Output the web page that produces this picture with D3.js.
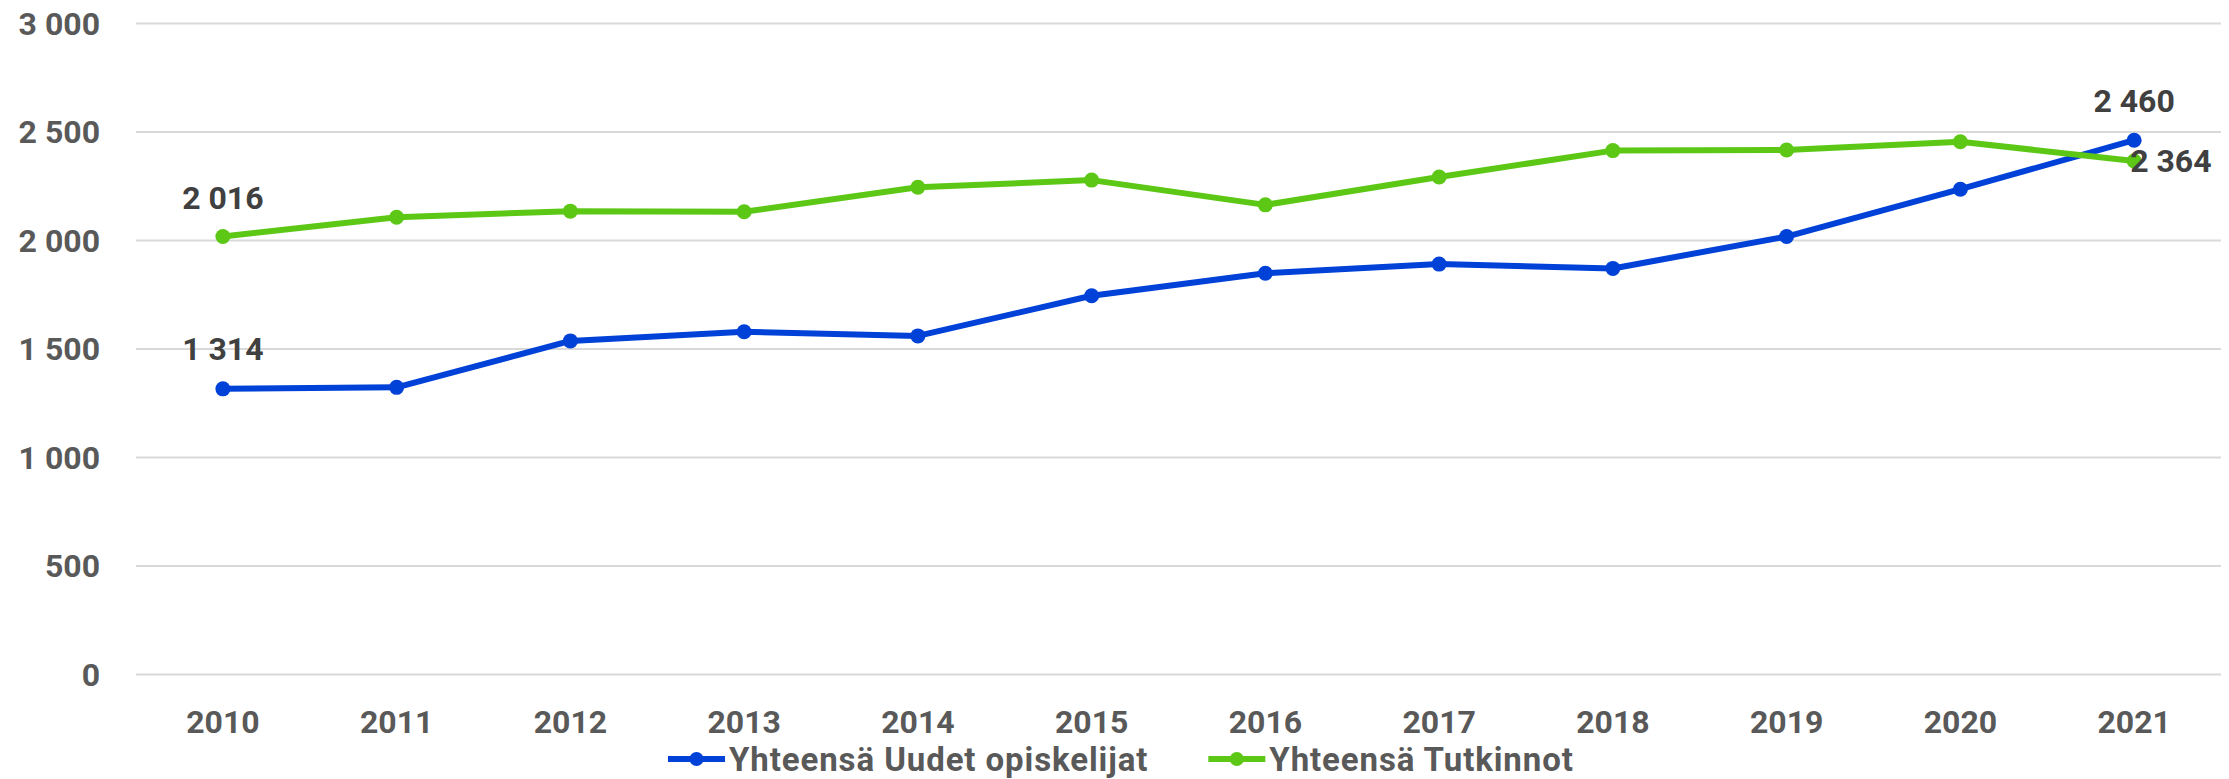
<!DOCTYPE html>
<html>
<head>
<meta charset="utf-8">
<script src="https://cdn.jsdelivr.net/npm/d3@7"></script>
<style>
  html, body { margin: 0; padding: 0; background: #fff; }
  svg { display: block; }
  text { font-family: Roboto, "Liberation Sans", sans-serif; font-weight: 700; }
</style>
</head>
<body>
<svg id="chart" width="2229" height="779"></svg>
<script>
const years = ["2010","2011","2012","2013","2014","2015","2016","2017","2018","2019","2020","2021"];
const uudetOpiskelijat = [1314, 1321, 1535, 1577, 1558, 1743, 1847, 1889, 1869, 2016, 2234, 2460];
const tutkinnot = [2016, 2105, 2133, 2130, 2243, 2276, 2162, 2290, 2412, 2415, 2453, 2364];
const yTicks = [0, 500, 1000, 1500, 2000, 2500, 3000];
const seriesNames = ["Yhteensä Uudet opiskelijat", "Yhteensä Tutkinnot"];
const seriesColors = ["#0041D8", "#5CC815"];

(function () {
const series = [
  { name: seriesNames[0], color: seriesColors[0], values: uudetOpiskelijat },
  { name: seriesNames[1], color: seriesColors[1], values: tutkinnot }
];

const svg = d3.select("#chart");
const mLeft = 136, mRight = 2221, mTop = 23, mBottom = 674;

const x = d3.scaleBand().domain(years).range([mLeft, mRight]).padding(0);
const y = d3.scaleLinear().domain([0, 3000]).range([mBottom, mTop]);
const loc = d3.formatLocale({ decimal: ",", thousands: " ", grouping: [3], currency: ["", ""] });
const fmt = loc.format(",d");

// Y axis with gridlines
const yAxis = svg.append("g")
  .attr("transform", `translate(${mLeft},0)`)
  .call(d3.axisLeft(y).tickValues(yTicks).tickFormat(fmt).tickSize(-(mRight - mLeft)).tickPadding(36));
yAxis.select(".domain").remove();
yAxis.selectAll(".tick line").attr("stroke", "#d9d9d9").attr("stroke-width", 2);
yAxis.selectAll(".tick text")
  .attr("fill", "#595959").attr("font-size", 32).attr("dy", "0.35em");

// X axis labels
const xAxis = svg.append("g")
  .attr("transform", `translate(0,${mBottom})`)
  .call(d3.axisBottom(x).tickSize(0).tickPadding(36));
xAxis.select(".domain").remove();
xAxis.selectAll(".tick text")
  .attr("fill", "#595959").attr("font-size", 32).attr("dy", "0.71em");

const cx = d => x(d) + x.bandwidth() / 2;
const line = d3.line().x((d, i) => cx(years[i])).y(d => y(d));

series.forEach(s => {
  svg.append("path")
    .datum(s.values)
    .attr("d", line)
    .attr("fill", "none")
    .attr("stroke", s.color)
    .attr("stroke-width", 6)
    .attr("stroke-linejoin", "round");
  svg.append("g").selectAll("circle")
    .data(s.values)
    .join("circle")
    .attr("cx", (d, i) => cx(years[i]))
    .attr("cy", d => y(d))
    .attr("r", 7.5)
    .attr("fill", s.color);
});

// Data labels
const labels = [
  { i: 0, v: uudetOpiskelijat[0], anchor: "middle", dx: 0, dy: -29 },
  { i: 0, v: tutkinnot[0], anchor: "middle", dx: 0, dy: -28 },
  { i: 11, v: uudetOpiskelijat[11], anchor: "middle", dx: 0, dy: -28 },
  { i: 11, v: tutkinnot[11], anchor: "start", dx: -4, dy: 11 }
];
svg.append("g").selectAll("text")
  .data(labels)
  .join("text")
  .attr("x", d => cx(years[d.i]) + d.dx)
  .attr("y", d => y(d.v) + d.dy)
  .attr("text-anchor", d => d.anchor)
  .attr("fill", "#404040")
  .attr("font-size", 32)
  .text(d => fmt(d.v));

// Legend
const legend = svg.append("g");
const legY = 759;
let lx = 668;
series.forEach((s, k) => {
  const g = legend.append("g");
  g.append("line").attr("x1", lx).attr("x2", lx + 57).attr("y1", legY).attr("y2", legY)
    .attr("stroke", s.color).attr("stroke-width", 6);
  g.append("circle").attr("cx", lx + 28.5).attr("cy", legY).attr("r", 7).attr("fill", s.color);
  const t = g.append("text").attr("x", lx + 61).attr("y", legY).attr("dy", "0.36em")
    .attr("fill", "#595959").attr("font-size", 33).attr("letter-spacing", 0.9).text(s.name);
  const w = t.node().getComputedTextLength();
  lx = lx + 61 + w + 60;
});
})();
</script>
</body>
</html>
